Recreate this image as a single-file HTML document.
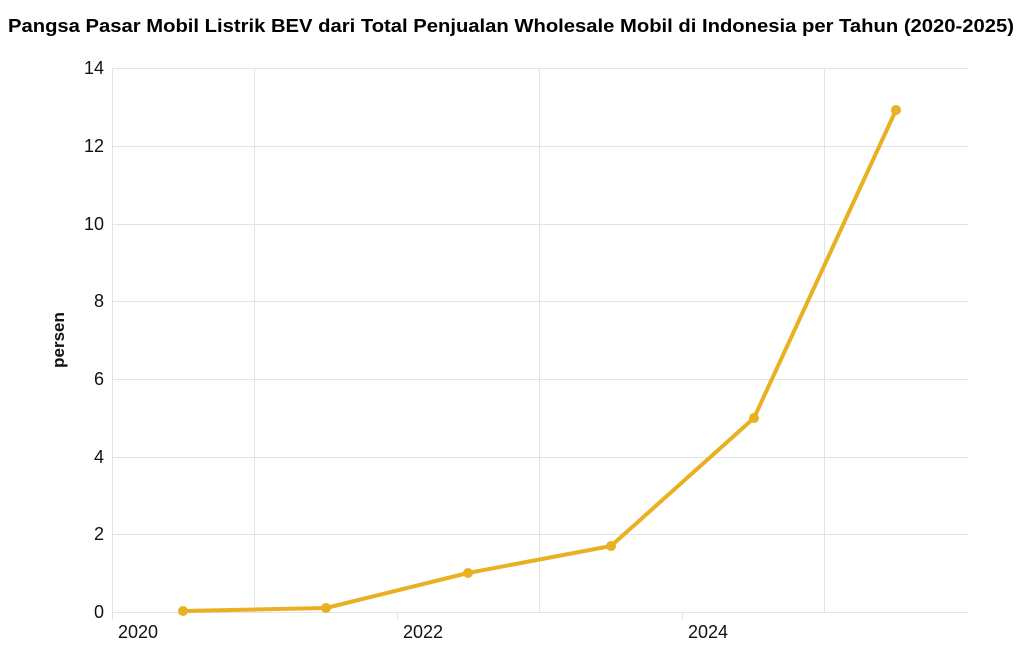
<!DOCTYPE html>
<html><head><meta charset="utf-8"><style>
body{margin:0;background:#fff;width:1024px;height:657px;overflow:hidden;font-family:"Liberation Sans",sans-serif}
</style></head><body>
<svg width="1024" height="657" xmlns="http://www.w3.org/2000/svg" font-family="Liberation Sans, sans-serif">
<text x="8" y="32" font-size="18" font-weight="bold" fill="#000" textLength="1006" lengthAdjust="spacingAndGlyphs">Pangsa Pasar Mobil Listrik BEV dari Total Penjualan Wholesale Mobil di Indonesia per Tahun (2020-2025)</text>
<g stroke="#e3e3e3" stroke-width="1">
<line x1="112" y1="68.5" x2="968" y2="68.5"/>
<line x1="112" y1="146.5" x2="968" y2="146.5"/>
<line x1="112" y1="224.5" x2="968" y2="224.5"/>
<line x1="112" y1="301.5" x2="968" y2="301.5"/>
<line x1="112" y1="379.5" x2="968" y2="379.5"/>
<line x1="112" y1="457.5" x2="968" y2="457.5"/>
<line x1="112" y1="534.5" x2="968" y2="534.5"/>
<line x1="112" y1="612.5" x2="968" y2="612.5"/>
<line x1="254.5" y1="68" x2="254.5" y2="612"/>
<line x1="539.5" y1="68" x2="539.5" y2="612"/>
<line x1="824.5" y1="68" x2="824.5" y2="612"/>
<line x1="112.5" y1="68" x2="112.5" y2="620"/>
<line x1="397.5" y1="612" x2="397.5" y2="620"/>
<line x1="682.5" y1="612" x2="682.5" y2="620"/>
</g>
<g font-size="18" fill="#111" text-anchor="end">
<text x="104" y="74">14</text>
<text x="104" y="152">12</text>
<text x="104" y="230">10</text>
<text x="104" y="307">8</text>
<text x="104" y="385">6</text>
<text x="104" y="463">4</text>
<text x="104" y="540">2</text>
<text x="104" y="618">0</text>
</g>
<g font-size="18" fill="#111">
<text x="118" y="638">2020</text>
<text x="403" y="638">2022</text>
<text x="688" y="638">2024</text>
</g>
<text transform="translate(64,340) rotate(-90)" text-anchor="middle" font-size="17" font-weight="bold" fill="#111">persen</text>
<polyline fill="none" stroke="#e8b022" stroke-width="4" stroke-linejoin="round" points="183,611 326,608 468,573 611,546 754,418 896,110"/>
<g fill="#e8b022">
<circle cx="183" cy="611" r="5"/><circle cx="326" cy="608" r="5"/><circle cx="468" cy="573" r="5"/>
<circle cx="611" cy="546" r="5"/><circle cx="754" cy="418" r="5"/><circle cx="896" cy="110" r="5"/>
</g>
</svg>
</body></html>
